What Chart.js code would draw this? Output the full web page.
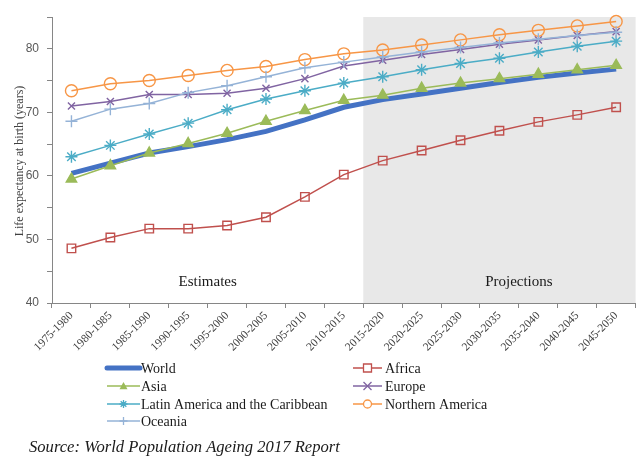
<!DOCTYPE html>
<html><head><meta charset="utf-8">
<script src="https://cdn.jsdelivr.net/npm/chart.js@4/dist/chart.umd.min.js"></script>
<style>html,body{margin:0;padding:0;background:#fff}#wrap{position:relative;width:643px;height:462px}</style>
</head><body><div id="wrap"><canvas id="c" width="643" height="462"></canvas></div>
<script>
const periods = ['1975-1980','1980-1985','1985-1990','1990-1995','1995-2000','2000-2005','2005-2010','2010-2015','2015-2020','2020-2025','2025-2030','2030-2035','2035-2040','2040-2045','2045-2050'];
const world    = [60.4, 62.0, 63.6, 64.6, 65.7, 67.0, 68.8, 70.8, 72.0, 72.9, 73.8, 74.7, 75.5, 76.2, 76.8];
const africa   = [48.6, 50.3, 51.7, 51.7, 52.2, 53.5, 56.7, 60.2, 62.4, 64.0, 65.6, 67.1, 68.5, 69.6, 70.8];
const asia     = [59.5, 61.6, 63.6, 65.1, 66.7, 68.6, 70.3, 71.9, 72.7, 73.8, 74.6, 75.3, 76.0, 76.7, 77.4];
const europe   = [71.0, 71.7, 72.8, 72.8, 73.0, 73.8, 75.3, 77.3, 78.2, 79.1, 79.9, 80.7, 81.4, 82.1, 82.7];
const latam    = [63.0, 64.8, 66.6, 68.3, 70.4, 72.1, 73.4, 74.6, 75.6, 76.7, 77.7, 78.5, 79.5, 80.4, 81.2];
const namerica = [73.4, 74.5, 75.0, 75.8, 76.6, 77.2, 78.3, 79.2, 79.8, 80.6, 81.4, 82.2, 82.9, 83.6, 84.3];
const oceania  = [68.6, 70.5, 71.4, 73.1, 74.2, 75.6, 77.0, 77.9, 78.7, 79.5, 80.2, 80.9, 81.5, 82.1, 82.6];
const yTicks = [40, 50, 60, 70, 80];
const seriesNames = ['World','Africa','Asia','Europe','Latin America and the Caribbean','Northern America','Oceania'];
const regionLabels = ['Estimates','Projections'];
const sourceText = 'Source: World Population Ageing 2017 Report';

const styles = [
  {color:'#4472c4', width:5, point:false, r:0, fill:false},
  {color:'#c0504d', width:1.5, point:'rect', r:6, fill:false},
  {color:'#9bbb59', width:1.5, point:'triangle', r:6, fill:true},
  {color:'#8064a2', width:1.5, point:'crossRot', r:5, fill:false},
  {color:'#4bacc6', width:1.5, point:'star', r:6, fill:false},
  {color:'#f79646', width:1.5, point:'circle', r:6, fill:false},
  {color:'#95b3d7', width:1.5, point:'cross', r:6, fill:false}
];
const allData = [world, africa, asia, europe, latam, namerica, oceania];

const datasets = allData.map((d, i) => {
  const s = styles[i];
  return {
    label: seriesNames[i], data: d, clip: false,
    borderColor: s.color, borderWidth: s.width,
    backgroundColor: s.fill ? s.color : 'rgba(0,0,0,0)',
    pointStyle: s.point || 'circle', pointRadius: s.r, pointHoverRadius: s.r,
    pointBorderColor: s.color, pointBackgroundColor: s.fill ? s.color : 'rgba(0,0,0,0)',
    pointBorderWidth: 1.4, tension: 0, order: 10 - i
  };
});

function drawMarker(ctx, style, color, x, y, r, fill) {
  ctx.save();
  ctx.strokeStyle = color; ctx.fillStyle = color; ctx.lineWidth = 1.3;
  ctx.beginPath();
  if (style === 'rect') { ctx.rect(x - r, y - r, 2*r, 2*r); ctx.fillStyle='#fff'; ctx.fill(); ctx.stroke(); }
  else if (style === 'circle') { ctx.arc(x, y, r, 0, Math.PI*2); ctx.fillStyle='#fff'; ctx.fill(); ctx.stroke(); }
  else if (style === 'triangle') { ctx.moveTo(x, y - r); ctx.lineTo(x + r, y + r*0.8); ctx.lineTo(x - r, y + r*0.8); ctx.closePath(); ctx.fill(); }
  else if (style === 'crossRot') { ctx.moveTo(x-r,y-r); ctx.lineTo(x+r,y+r); ctx.moveTo(x+r,y-r); ctx.lineTo(x-r,y+r); ctx.stroke(); }
  else if (style === 'star') { for (let k=0;k<4;k++){const a=k*Math.PI/4; ctx.moveTo(x-r*Math.cos(a),y-r*Math.sin(a)); ctx.lineTo(x+r*Math.cos(a),y+r*Math.sin(a));} ctx.stroke(); }
  else if (style === 'cross') { ctx.moveTo(x-r,y); ctx.lineTo(x+r,y); ctx.moveTo(x,y-r); ctx.lineTo(x,y+r); ctx.stroke(); }
  ctx.restore();
}

const decor = {
  id: 'decor',
  beforeDatasetsDraw(chart) {
    const {ctx, chartArea, scales} = chart;
    const x0 = scales.x.getPixelForValue(7.5);
    const yTop = scales.y.getPixelForValue(85);
    ctx.save();
    ctx.fillStyle = '#e8e8e8';
    ctx.fillRect(x0, yTop, chartArea.right - x0, chartArea.bottom - yTop);
    ctx.fillStyle = '#1a1a1a';
    ctx.font = '15px "Liberation Serif"';
    ctx.textAlign = 'center'; ctx.textBaseline = 'middle';
    ctx.fillText(regionLabels[0], scales.x.getPixelForValue(3.5), scales.y.getPixelForValue(43.3));
    ctx.fillText(regionLabels[1], scales.x.getPixelForValue(11.5) - 0, scales.y.getPixelForValue(43.3));
    ctx.restore();
  },
  afterDraw(chart) {
    const ctx = chart.ctx;
    ctx.save();
    ctx.translate(20, 161); ctx.rotate(-Math.PI/2);
    ctx.font = '12px "Liberation Serif"'; ctx.fillStyle = '#404040';
    ctx.textAlign = 'center'; ctx.textBaseline = 'middle';
    ctx.fillText('Life expectancy at birth (years)', 0, 0);
    ctx.restore();
    const cols = [{x0:107, x1:140, tx:141}, {x0:353, x1:382, tx:385}];
    const rows = [368, 386, 404, 421];
    ctx.save();
    ctx.font = '14px "Liberation Serif"'; ctx.fillStyle = '#1a1a1a';
    ctx.textBaseline = 'middle'; ctx.textAlign = 'left';
    seriesNames.forEach((name, i) => {
      const c = cols[i % 2], y = rows[Math.floor(i / 2)], s = styles[i];
      ctx.strokeStyle = s.color; ctx.lineWidth = i === 0 ? 5 : 1.5;
      ctx.lineCap = i === 0 ? 'round' : 'butt';
      ctx.beginPath(); ctx.moveTo(c.x0, y); ctx.lineTo(c.x1, y); ctx.stroke();
      if (s.point) drawMarker(ctx, s.point, s.color, (c.x0 + c.x1) / 2, y, 4, s.fill);
      ctx.fillStyle = '#1a1a1a';
      ctx.fillText(name, c.tx, y + 1);
    });
    ctx.font = 'italic 16.6px "Liberation Serif"';
    ctx.fillStyle = '#1a1a1a';
    ctx.fillText(sourceText, 29, 448);
    ctx.restore();
  }
};

new Chart(document.getElementById('c'), {
  type: 'line',
  data: { labels: periods, datasets },
  options: {
    responsive: false, animation: false,
    layout: { padding: { left: 0, right: 6, top: 17, bottom: 0 } },
    plugins: { legend: { display: false }, tooltip: { enabled: false } },
    scales: {
      x: {
        offset: true,
        grid: { offset: true, drawOnChartArea: false, drawTicks: true, tickLength: 5, color: '#868686' },
        border: { color: '#868686', width: 1 },
        ticks: { minRotation: 45, maxRotation: 45, autoSkip: false, padding: 1, color: '#404040', font: { family: 'Liberation Serif', size: 11.5 } },
        afterFit(s) { s.height = 462 - 303; }
      },
      y: {
        min: 40, max: 85,
        grid: { drawOnChartArea: false, drawTicks: true, tickLength: 5, color: '#868686' },
        border: { color: '#868686', width: 1 },
        ticks: { stepSize: 5, padding: 8, color: '#595959', font: { family: 'Liberation Sans', size: 12 },
          callback: v => yTicks.includes(v) ? String(v) : '' },
        afterFit(s) { s.width = 52; }
      }
    }
  },
  plugins: [decor]
});
</script></body></html>
